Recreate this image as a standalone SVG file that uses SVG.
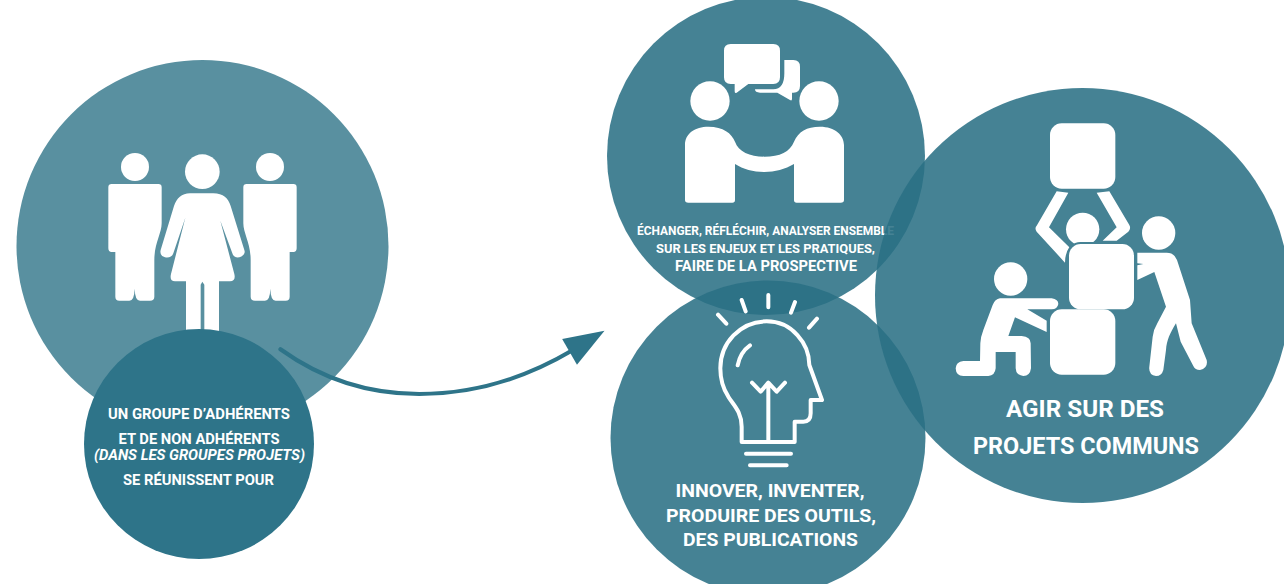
<svg xmlns="http://www.w3.org/2000/svg" width="1284" height="584" viewBox="0 0 1284 584">
<style>
.c{fill:#296f84;fill-opacity:.87}
.w{fill:#fff}
.s{fill:none;stroke:#fff;stroke-width:12;stroke-linecap:round;stroke-linejoin:round}
text{font-family:Roboto,"Liberation Sans",sans-serif;font-weight:700;fill:#fff}
</style>
<defs>
<path id="man" d="M335 402H475Q485 402 485 412V520C485 550 463 580 463 630V740Q463 752 450 752H420Q405 752 404 716Q403 752 388 752H358Q346 752 346 740V606H335Q325 606 325 595V412Q325 402 335 402Z"/>
</defs>
<rect width="1284" height="584" fill="#fff"/>
<g id="groupe">
<circle cx="202.500" cy="246" r="186" fill="#5990a0"/>
<g class="w" transform="translate(0 50) scale(.33333)">
<circle cx="405" cy="351" r="42"/>
<use href="#man"/>
<circle cx="810" cy="351" r="42"/>
<use href="#man" transform="matrix(-1 0 0 1 1215 0)"/>
<circle cx="607" cy="365" r="52"/>
<path d="M570 430H640C670 430 685 445 692 468L733 600C738 612 725 624 708 622Q700 620 697 610L661 512L703 672Q708 694 690 694H657V880H613V704L607 695L602 704V880H558V694H525Q508 694 513 672L556 503L520 610Q515 625 495 622Q478 618 482 600L522 468C530 445 545 430 570 430Z"/>
</g>
</g>
<g id="reunion">
<circle cx="199" cy="444" r="115" fill="#2e7489"/>
<text x="199" y="418.500" font-size="14" text-anchor="middle" textLength="182" lengthAdjust="spacingAndGlyphs">UN GROUPE D’ADHÉRENTS</text>
<text x="199" y="443.500" font-size="14" text-anchor="middle" textLength="161" lengthAdjust="spacingAndGlyphs">ET DE NON ADHÉRENTS</text>
<text x="199.500" y="460" font-size="14" font-style="italic" text-anchor="middle" textLength="211" lengthAdjust="spacingAndGlyphs">(DANS LES GROUPES PROJETS)</text>
<text x="198.500" y="485" font-size="14" text-anchor="middle" textLength="151" lengthAdjust="spacingAndGlyphs">SE RÉUNISSENT POUR</text>
</g>
<g id="echanger">
<circle class="c" cx="766" cy="156" r="159"/>
<g class="w" transform="translate(620 30) scale(.33333)">
<circle cx="270" cy="213" r="59"/>
<circle cx="597" cy="213" r="59"/>
<path d="M195 345C195 310 225 290 265 290C310 290 335 310 345 335C355 365 390 380 433 380C480 380 510 365 522 335C535 305 560 290 600 290C645 290 672 315 672 345V510Q672 518 662 518H530Q522 518 522 510V402C495 418 465 426 433 426C400 426 370 418 345 402V510Q345 518 337 518H205Q195 518 195 510Z"/>
<path d="M332 42H460Q480 42 480 62V142Q480 162 460 162H385L350 188Q344 192 344 184V162H332Q312 162 312 142V62Q312 42 332 42Z"/>
<path d="M493 90H520Q540 90 540 110V168Q540 188 520 188H516V206Q516 214 510 210L472 188H420Q405 188 405 178H460Q493 178 493 130Z"/>
</g>
<text x="765.500" y="235" font-size="13" text-anchor="middle" textLength="257" lengthAdjust="spacingAndGlyphs">ÉCHANGER, RÉFLÉCHIR, ANALYSER ENSEMBLE</text>
<text x="765.500" y="253" font-size="13" text-anchor="middle" textLength="219" lengthAdjust="spacingAndGlyphs">SUR LES ENJEUX ET LES PRATIQUES,</text>
<text x="766" y="271" font-size="14" text-anchor="middle" textLength="182" lengthAdjust="spacingAndGlyphs">FAIRE DE LA PROSPECTIVE</text>
</g>
<g id="innover">
<circle class="c" cx="768" cy="438" r="157.500"/>
<g transform="translate(650 280) scale(.33333)">
<path class="s" d="M275 486V440C275 395 250 375 235 350C215 320 211 295 211 265C211 190 270 124 350 124C425 124 478 190 478 255L516 360H482V400Q482 425 460 425H434V486Z"/>
<path class="s" d="M355 486V310M306 308L332 335L355 308L380 335L405 308M288 521H423M300 556H410M300 196C280 210 268 230 263 256M355 45V82M275 60L287 94M435 66L423 98M204 104L229 131M501 116L477 143"/>
</g>
<text x="770" y="497" font-size="18" text-anchor="middle" textLength="189" lengthAdjust="spacingAndGlyphs">INNOVER, INVENTER,</text>
<text x="771" y="521.500" font-size="18" text-anchor="middle" textLength="210" lengthAdjust="spacingAndGlyphs">PRODUIRE DES OUTILS,</text>
<text x="770.500" y="546" font-size="18" text-anchor="middle" textLength="175" lengthAdjust="spacingAndGlyphs">DES PUBLICATIONS</text>
</g>
<g id="agir">
<circle class="c" cx="1082.500" cy="295.500" r="207.500"/>
<g class="w" transform="translate(940 110) scale(.33333)">
<circle cx="428" cy="358" r="50"/>
<path d="M350 244L385 248L327 352L388 412Q375 430 375 458L290 365Q283 355 290 347Z"/>
<path d="M470 248L508 244L568 345Q574 355 565 365L530 392H488L530 352Z"/>
<rect x="330" y="40" width="196" height="196" rx="35"/>
<rect x="381" y="396" width="207" height="208" rx="40" fill="#458294"/>
<rect x="387" y="402" width="195" height="196" rx="35"/>
<rect x="330" y="598" width="196" height="196" rx="35"/>
<circle cx="656" cy="369" r="50"/>
<path d="M592 428H680Q703 428 711 450L750 570L755 640L800 750Q805 775 780 780Q765 780 760 768L722 695L708 640C690 670 680 690 678 720L670 780Q665 798 648 798Q625 795 628 770L638 680Q640 660 652 640L678 590L643 486L592 510V466L610 462L592 460Z"/>
<circle cx="212" cy="507" r="50"/>
<path d="M180 565H335Q355 568 355 582Q352 598 335 598H262L320 632V666L225 622L205 678H245Q272 680 272 700L273 775Q270 798 250 798Q228 796 227 775V726H167V775Q165 797 145 798H70Q48 798 47 775Q48 755 70 753H120L121 700Q122 680 130 660L158 585Q165 567 180 565Z"/>
</g>
<text x="1085" y="417" font-size="23" text-anchor="middle" textLength="158" lengthAdjust="spacingAndGlyphs">AGIR SUR DES</text>
<text x="1086" y="454" font-size="23" text-anchor="middle" textLength="226" lengthAdjust="spacingAndGlyphs">PROJETS COMMUNS</text>
</g>
<g id="connectors" transform="translate(80 320) scale(.3444)">
<path d="M582 85C700 170 830 215 985 215C1150 215 1300 165 1430 88" fill="none" stroke="#2e7489" stroke-width="12" stroke-linecap="round"/>
<polygon points="1523,31 1400,55 1443,130" fill="#2e7489"/>
</g>
</svg>
